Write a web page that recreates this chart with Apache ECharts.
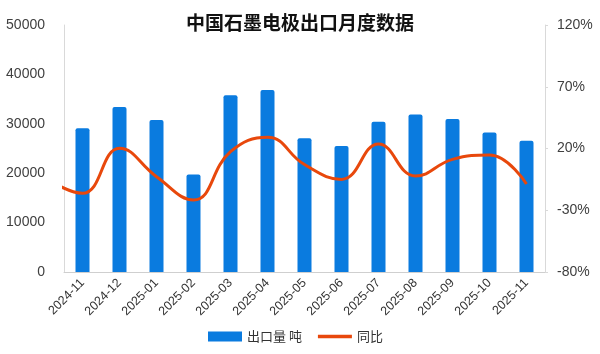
<!DOCTYPE html>
<html>
<head>
<meta charset="utf-8">
<script src="https://cdn.jsdelivr.net/npm/echarts@6/dist/echarts.min.js"></script>
<style>
  html, body { margin: 0; padding: 0; background: #fff; }
  #chart { width: 600px; height: 354px; }
</style>
</head>
<body>
<div id="chart"></div>
<script>
// months on the x axis
const months = ['2024-11', '2024-12', '2025-01', '2025-02', '2025-03', '2025-04', '2025-05',
  '2025-06', '2025-07', '2025-08', '2025-09', '2025-10', '2025-11']
// export volume, tonnes
const exportTons = [29100, 33400, 30750, 19750, 35800, 36850, 27050, 25500, 30400, 31900, 30950, 28250, 26550]
// year-on-year change, %
const yoy = [-16.3, 20.2, -2.8, -21.7, 17.4, 29.1, 7, -5, 23.6, -2.3, 11.2, 14.7, -8.7]
// the month before the first one, only its curve end shows at the left edge
const yoyPrev = -4
const leftTicks = [0, 10000, 20000, 30000, 40000, 50000]
const rightTicks = [-80, -30, 20, 70, 120]

const lineData = [[-1, yoyPrev]].concat(yoy.map((v, i) => [i, v]))

const chart = echarts.init(document.getElementById('chart'))
const labelFont = 'Liberation Sans, Arial, sans-serif'

chart.setOption({
  animation: false,
  title: {
    text: '中国石墨电极出口月度数据',
    left: 'center',
    top: 8,
    textStyle: {
      fontFamily: 'Noto Sans CJK SC',
      fontSize: 19,
      fontWeight: 'bold',
      color: '#111'
    }
  },
  legend: {
    bottom: 6,
    left: 203,
    itemGap: 16,
    textStyle: { fontFamily: 'Noto Sans CJK SC', fontSize: 13, color: '#333' },
    data: [
      { name: '出口量 吨', icon: 'rect', itemStyle: { color: '#0A7BDF' } },
      { name: '同比', icon: 'path://M0,0 L10,0 L10,1 L0,1 Z', itemStyle: { color: '#E8480C' } }
    ],
    itemWidth: 34,
    itemHeight: 10
  },
  grid: { left: 64, right: 55, top: 25, bottom: 82 },
  xAxis: [
    {
      type: 'category',
      data: months,
      axisLine: { lineStyle: { color: '#cfcfcf', width: 1 } },
      axisTick: { show: false },
      axisLabel: {
        rotate: 45,
        margin: 9,
        fontSize: 12.5,
        fontFamily: labelFont,
        color: '#333'
      }
    },
    {
      type: 'value',
      min: -0.5,
      max: months.length - 0.5,
      show: false
    }
  ],
  yAxis: [
    {
      type: 'value',
      min: leftTicks[0],
      max: leftTicks[leftTicks.length - 1],
      interval: 10000,
      splitLine: { show: false },
      axisLine: { show: true, onZero: false, lineStyle: { color: '#d9d9d9' } },
      axisTick: { show: false },
      axisLabel: {
        margin: 19,
        fontSize: 14,
        fontFamily: labelFont,
        color: '#404040',
        formatter: v => String(v)
      }
    },
    {
      type: 'value',
      min: rightTicks[0],
      max: rightTicks[rightTicks.length - 1],
      interval: 50,
      splitLine: { show: false },
      axisLine: { show: true, onZero: false, lineStyle: { color: '#d9d9d9' } },
      axisTick: { show: true, length: 3, lineStyle: { color: '#d9d9d9' } },
      axisLabel: {
        margin: 12,
        fontSize: 14,
        fontFamily: labelFont,
        color: '#404040',
        formatter: '{value}%'
      }
    }
  ],
  series: [
    {
      name: '出口量 吨',
      type: 'bar',
      data: exportTons,
      barWidth: 14,
      itemStyle: { color: '#0A7BDF', borderRadius: [2, 2, 0, 0] }
    },
    {
      name: '同比',
      type: 'line',
      xAxisIndex: 1,
      yAxisIndex: 1,
      data: lineData,
      smooth: 0.45,
      clip: true,
      showSymbol: false,
      lineStyle: { color: '#E8480C', width: 3 },
      itemStyle: { color: '#E8480C' }
    }
  ]
})
</script>
</body>
</html>
